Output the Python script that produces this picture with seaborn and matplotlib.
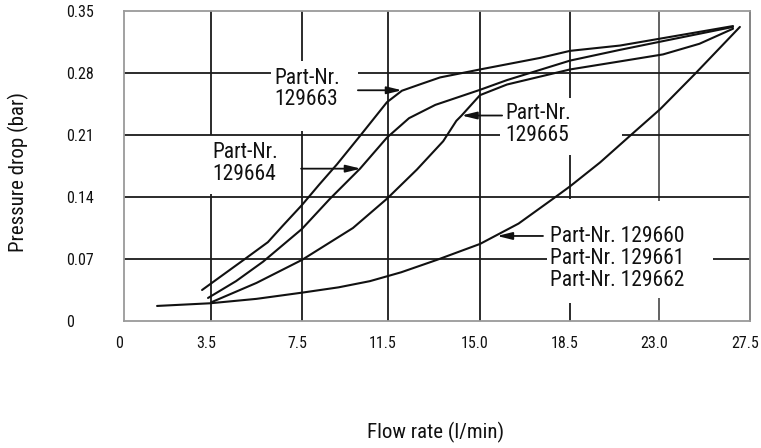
import numpy as np
import pandas as pd
import matplotlib
matplotlib.use("Agg")
import matplotlib.pyplot as plt
import matplotlib.transforms as mtransforms
from matplotlib import font_manager
import seaborn as sns

# ---- data -------------------------------------------------------------
x_ticks = [0, 3.5, 7.5, 11.5, 15.0, 18.5, 23.0, 27.5]
x_tick_labels = ["0", "3.5", "7.5", "11.5", "15.0", "18.5", "23.0", "27.5"]
y_ticks = [0, 0.07, 0.14, 0.21, 0.28, 0.35]
y_tick_labels = ["0", "0.07", "0.14", "0.21", "0.28", "0.35"]

flow_129663 = [3.14, 4.99, 6.0, 6.67, 7.5, 8.3, 9.13, 10.2, 11.45, 12.03, 12.7, 13.48, 15.0, 17.33, 18.5, 21.03, 26.66]
dp_129663 = [0.035, 0.070, 0.089, 0.108, 0.131, 0.154, 0.177, 0.209, 0.247, 0.260, 0.267, 0.275, 0.284, 0.297, 0.305, 0.311, 0.333]

flow_129664 = [3.38, 4.6, 5.79, 7.5, 8.8, 10.2, 11.45, 12.3, 13.3, 15.0, 16.05, 18.5, 21.0, 23.2, 26.66]
dp_129664 = [0.026, 0.045, 0.067, 0.104, 0.138, 0.172, 0.207, 0.229, 0.244, 0.261, 0.272, 0.294, 0.306, 0.316, 0.332]

flow_129665 = [3.5, 5.5, 7.5, 9.87, 11.45, 12.6, 13.6, 14.1, 14.3, 15.0, 16.05, 18.5, 21.0, 23.2, 25.0, 26.66]
dp_129665 = [0.021, 0.043, 0.069, 0.105, 0.138, 0.171, 0.203, 0.226, 0.232, 0.255, 0.267, 0.284, 0.293, 0.301, 0.313, 0.330]

flow_129660 = [1.33, 3.46, 5.5, 7.5, 9.2, 10.66, 12.0, 13.36, 15.0, 16.5, 17.84, 18.5, 20.02, 21.53, 23.05, 24.78, 27.0]
dp_129660 = [0.017, 0.020, 0.025, 0.032, 0.038, 0.045, 0.055, 0.069, 0.087, 0.110, 0.138, 0.152, 0.179, 0.209, 0.239, 0.279, 0.332]

# ---- fonts ------------------------------------------------------------
sns.set_theme(style="white")
entries = font_manager.fontManager.ttflist
names = {f.name for f in entries}
narrow = None
for cand in ["Liberation Sans Narrow", "Arial Narrow", "Roboto Condensed",
             "Open Sans Condensed", "Nimbus Sans Narrow"]:
    if cand in names:
        narrow = cand
        break
if narrow is not None:
    plt.rcParams["font.family"] = [narrow, "DejaVu Sans"]
    k = 1.0
else:
    plt.rcParams["font.family"] = ["Liberation Sans", "DejaVu Sans"]
    k = 0.88

W, H = 761, 448
fig = plt.figure(figsize=(W / 100, H / 100), dpi=100)
ax = fig.add_axes([124 / W, 1 - 321 / H, 626 / W, 310 / H])

# piecewise-linear x scale: tick values are equally spaced on the drawing
grid_pos = [0, 87, 178, 264, 356, 446, 535, 626]
fwd = lambda v: np.interp(v, x_ticks, grid_pos)
inv = lambda p: np.interp(p, grid_pos, x_ticks)
ax.set_xscale("function", functions=(fwd, inv))
ax.set_xlim(0, 27.5)
ax.set_ylim(0, 0.35)

# ---- grid (broken where labels sit) -----------------------------------
gc, glw = "#1a1a1a", 1.3
vsegs = {3.5: [(0, 0.143), (0.21, 0.35)],
         7.5: [(0, 0.215), (0.294, 0.35)],
         11.5: [(0, 0.35)],
         15.0: [(0, 0.35)],
         18.5: [(0, 0.02), (0.138, 0.187), (0.252, 0.35)],
         23.0: [(0, 0.026), (0.136, 0.35)]}
for xv, segs in vsegs.items():
    for a, b in segs:
        ax.vlines(xv, a, b, color=gc if xv != 23.0 else "#555555", lw=glw, zorder=1)
hsegs = {0.07: [(0, 17.6), (25.67, 27.5)],
         0.14: [(0, 27.5)],
         0.21: [(0, 15.78), (21.13, 27.5)],
         0.28: [(0, 6.15), (10.1, 27.5)]}
for yv, segs in hsegs.items():
    for a, b in segs:
        ax.hlines(yv, a, b, color=gc, lw=glw, zorder=1)

# ---- curves ------------------------------------------------------------
curves = [(flow_129663, dp_129663), (flow_129664, dp_129664),
          (flow_129665, dp_129665), (flow_129660, dp_129660)]
for fx, fy in curves:
    sns.lineplot(x=fx, y=fy, ax=ax, color="#111111", lw=1.5, sort=False,
                 estimator=None, zorder=3)

# ---- labels & arrows ----------------------------------------------------
fs_lab = 15.5 * k
txt = dict(fontsize=fs_lab, color="#111111", ha="left", va="center",
           linespacing=1.05, zorder=4)
ax.text(6.29, 0.262, "Part-Nr.\n129663", **txt)
ax.text(3.56, 0.178, "Part-Nr.\n129664", **txt)
ax.text(15.97, 0.222, "Part-Nr.\n129665", **txt)
ax.text(17.72, 0.0705, "Part-Nr. 129660\nPart-Nr. 129661\nPart-Nr. 129662", **txt)

arrow = dict(arrowstyle="-|>,head_length=0.9,head_width=0.22", color="#111111",
             lw=1.3, shrinkA=0, shrinkB=0, mutation_scale=10)
ax.annotate("", xy=(12.03, 0.2605), xytext=(10.1, 0.2605), arrowprops=arrow)
ax.annotate("", xy=(10.24, 0.172), xytext=(7.46, 0.172), arrowprops=arrow)
ax.annotate("", xy=(14.3, 0.232), xytext=(15.86, 0.232), arrowprops=arrow)
ax.annotate("", xy=(15.66, 0.096), xytext=(17.45, 0.096), arrowprops=arrow)

# ---- axes ----------------------------------------------------------------
ax.set_xticks(x_ticks)
ax.set_xticklabels(x_tick_labels)
ax.set_yticks(y_ticks)
ax.set_yticklabels(y_tick_labels)
ax.tick_params(axis="both", length=0, labelsize=11.5 * (1 if k == 1 else 0.92), colors="#111111")
ax.tick_params(axis="x", pad=11)
ax.tick_params(axis="y", pad=42)
for lab in ax.get_yticklabels():
    lab.set_horizontalalignment("left")
shift = mtransforms.ScaledTranslation(-5 / 100, 0, fig.dpi_scale_trans)
for lab in ax.get_xticklabels():
    lab.set_transform(lab.get_transform() + shift)

for s in ax.spines.values():
    s.set_color("#9a9a9a")
    s.set_linewidth(1.3)
ax.spines["right"].set_color("#7a7a7a")

ax.set_xlabel("Flow rate (l/min)", fontsize=15 * k, color="#111111")
ax.set_ylabel("Pressure drop (bar)", fontsize=15 * k, color="#111111")
ax.xaxis.set_label_coords((436 - 124) / 626, (321 - 432) / 310)
ax.xaxis.label.set_va("center")
ax.yaxis.set_label_coords((18 - 124) / 626, (321 - 172) / 310)
ax.yaxis.label.set_va("center")

fig.savefig("out.png", dpi=100, facecolor="white")
